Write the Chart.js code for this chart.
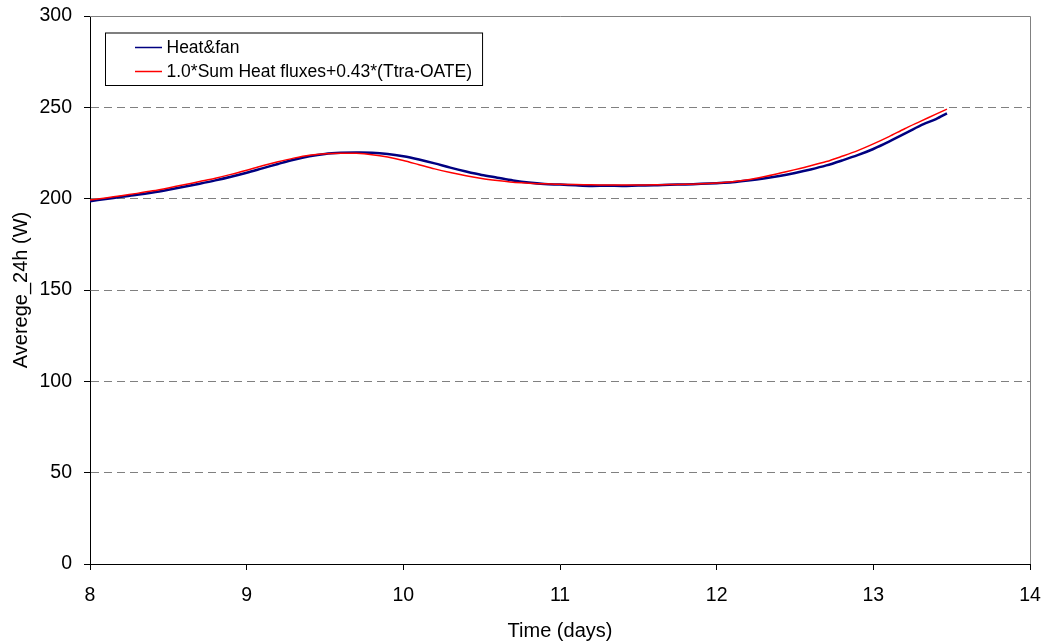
<!DOCTYPE html>
<html>
<head>
<meta charset="utf-8">
<script src="https://cdn.jsdelivr.net/npm/chart.js@4/dist/chart.umd.min.js"></script>
<style>
  html, body { margin: 0; padding: 0; background: #fff; }
  #wrap { width: 1043px; height: 643px; position: relative; }
</style>
</head>
<body>
<div id="wrap"><canvas id="chart"></canvas></div>
<script>
  const days = [8.0, 8.1, 8.2, 8.3, 8.4, 8.5, 8.6, 8.7, 8.8, 8.9,
    9.0, 9.1, 9.2, 9.3, 9.4, 9.5, 9.6, 9.7, 9.8, 9.9,
    10.0, 10.1, 10.2, 10.3, 10.4, 10.5, 10.6, 10.7, 10.8, 10.9,
    11.0, 11.1, 11.2, 11.3, 11.4, 11.5, 11.6, 11.7, 11.8, 11.9,
    12.0, 12.1, 12.2, 12.3, 12.4, 12.5, 12.6, 12.7, 12.8, 12.9,
    13.0, 13.1, 13.2, 13.3, 13.4, 13.47];

  const heatFan = [198.6, 199.8, 201.0, 202.1, 203.4, 204.9, 206.5, 208.2, 210.0, 212.0,
    214.2, 216.6, 219.0, 221.3, 223.2, 224.5, 225.1, 225.3, 225.2, 224.5,
    223.2, 221.4, 219.3, 217.0, 214.9, 213.0, 211.5, 210.0, 208.8, 208.0,
    207.7, 207.3, 207.0, 207.1, 207.0, 207.2, 207.3, 207.6, 207.8, 208.1,
    208.5, 209.0, 209.9, 211.0, 212.4, 214.1, 216.0, 218.2, 220.9, 223.8,
    227.2, 231.2, 235.6, 240.0, 243.6, 246.7];

  const fluxSum = [199.3, 200.4, 201.6, 202.9, 204.3, 205.9, 207.6, 209.4, 211.2, 213.3,
    215.6, 218.0, 220.2, 222.2, 223.8, 224.6, 224.9, 224.8, 224.1, 222.8,
    220.9, 218.6, 216.3, 214.3, 212.5, 211.0, 209.9, 209.0, 208.5, 208.1,
    207.9, 207.7, 207.6, 207.5, 207.5, 207.5, 207.6, 207.7, 207.9, 208.1,
    208.6, 209.3, 210.4, 212.0, 213.9, 215.9, 218.0, 220.3, 223.2, 226.3,
    230.0, 234.0, 238.3, 242.3, 246.3, 249.0];

  const seriesLabels = ["Heat&fan", "1.0*Sum Heat fluxes+0.43*(Ttra-OATE)"];
  const seriesColors = ["#000080", "#ff0000"];

  const FONT = "'Liberation Sans', Arial, sans-serif";

  function toPoints(values) {
    return days.map(function (d, i) { return { x: d, y: values[i] }; });
  }

  // gray frame on top and right of the plot area
  const frame = {
    id: "frame",
    beforeDatasetsDraw(chart) {
      const a = chart.chartArea;
      const ctx = chart.ctx;
      ctx.save();
      ctx.strokeStyle = "#808080";
      ctx.lineWidth = 1;
      ctx.beginPath();
      ctx.moveTo(a.left, a.top + 0.5);
      ctx.lineTo(a.right + 0.5, a.top + 0.5);
      ctx.lineTo(a.right + 0.5, a.bottom);
      ctx.stroke();
      ctx.restore();
    }
  };

  // boxed legend inside the plot area, like the original
  const boxLegend = {
    id: "boxLegend",
    afterDraw(chart) {
      const ctx = chart.ctx;
      const left = 105, top = 32.5, textX = 166.5;
      const rowY = [47.5, 71.5];
      ctx.save();
      ctx.font = "17.5px " + FONT;
      let w = 0;
      chart.data.datasets.forEach(function (ds) {
        w = Math.max(w, ctx.measureText(ds.label).width);
      });
      ctx.fillStyle = "#fff";
      ctx.fillRect(left, top, textX - left + w + 10, 52.5);
      ctx.strokeStyle = "#000";
      ctx.lineWidth = 1;
      ctx.strokeRect(left + 0.5, top + 0.5, textX - left + w + 10, 52.5);
      chart.data.datasets.forEach(function (ds, i) {
        ctx.strokeStyle = ds.borderColor;
        ctx.lineWidth = 1.5;
        ctx.beginPath();
        ctx.moveTo(135, rowY[i]);
        ctx.lineTo(162, rowY[i]);
        ctx.stroke();
        ctx.fillStyle = "#000";
        ctx.textBaseline = "middle";
        ctx.fillText(ds.label, textX, rowY[i] + 1);
      });
      ctx.restore();
    }
  };

  new Chart(document.getElementById("chart").getContext("2d"), {
    type: "line",
    data: {
      datasets: [
        {
          label: seriesLabels[0],
          data: toPoints(heatFan),
          borderColor: seriesColors[0],
          backgroundColor: seriesColors[0],
          borderWidth: 2.5,
          pointRadius: 0,
          tension: 0.3,
          order: 1
        },
        {
          label: seriesLabels[1],
          data: toPoints(fluxSum),
          borderColor: seriesColors[1],
          backgroundColor: seriesColors[1],
          borderWidth: 1.5,
          pointRadius: 0,
          tension: 0.3,
          order: 0
        }
      ]
    },
    options: {
      responsive: true,
      maintainAspectRatio: false,
      animation: false,
      layout: { padding: { left: 0, top: 16, right: 13, bottom: 0 } },
      plugins: {
        legend: { display: false },
        tooltip: { enabled: false }
      },
      scales: {
        x: {
          type: "linear",
          min: 8,
          max: 14,
          afterFit: function (scale) {
            scale.height = 79;
            scale.paddingLeft = 0;
            scale.paddingRight = 0;
          },
          ticks: { stepSize: 1, color: "#000", padding: 14, font: { family: FONT, size: 19.5 } },
          grid: { drawOnChartArea: false, drawTicks: true, tickLength: 6, tickColor: "#000" },
          border: { display: true, color: "#000", width: 1 },
          title: {
            display: true,
            text: "Time (days)",
            color: "#000",
            padding: { top: 3, bottom: 0 },
            font: { family: FONT, size: 20 }
          }
        },
        y: {
          min: 0,
          max: 300,
          afterFit: function (scale) {
            scale.width = 90;
            scale.paddingTop = 0;
            scale.paddingBottom = 0;
          },
          ticks: { stepSize: 50, color: "#000", padding: 12, font: { family: FONT, size: 19.5 } },
          grid: {
            color: function (c) {
              return (c.tick && (c.tick.value === 0 || c.tick.value === 300)) ? "rgba(0,0,0,0)" : "#808080";
            },
            tickLength: 6,
            tickColor: "#000",
            lineWidth: 1
          },
          border: { display: true, color: "#000", width: 1, dash: [8, 5] },
          title: {
            display: true,
            text: "Averege_24h (W)",
            color: "#000",
            padding: { top: 9, bottom: 0 },
            font: { family: FONT, size: 20 }
          }
        }
      }
    },
    plugins: [frame, boxLegend]
  });
</script>
</body>
</html>
